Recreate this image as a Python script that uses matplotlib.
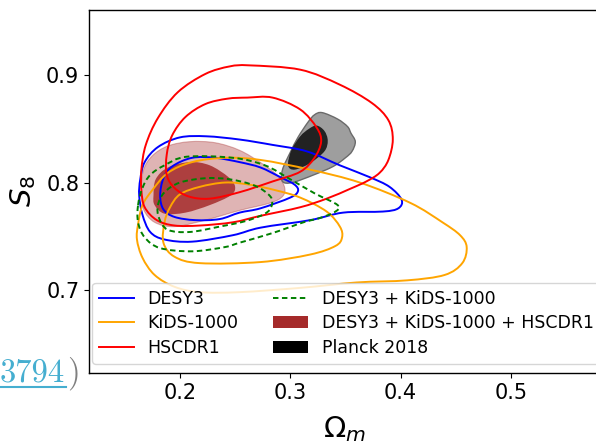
import numpy as np
import matplotlib
matplotlib.use("Agg")
import matplotlib.pyplot as plt
from matplotlib.path import Path
from matplotlib.patches import PathPatch, Patch
from matplotlib.lines import Line2D

# ---- credible-region outlines in the (Omega_m, S8) plane ----
# DESY3 (1 and 2 sigma)
desy3_om_1 = [0.182, 0.185, 0.193, 0.211, 0.232, 0.254, 0.273, 0.291, 0.304, 0.307, 0.300,
              0.273, 0.254, 0.236, 0.214, 0.195, 0.185]
desy3_s8_1 = [0.788, 0.804, 0.815, 0.823, 0.823, 0.819, 0.814, 0.805, 0.798, 0.792, 0.786,
              0.776, 0.772, 0.766, 0.765, 0.768, 0.775]
desy3_om_2 = [0.164, 0.168, 0.180, 0.200, 0.224, 0.254, 0.284, 0.315, 0.345, 0.372, 0.390,
              0.401, 0.398, 0.384, 0.348, 0.318, 0.273, 0.248, 0.211, 0.186, 0.173, 0.166, 0.163]
desy3_s8_2 = [0.803, 0.819, 0.833, 0.842, 0.843, 0.840, 0.835, 0.829, 0.816, 0.805, 0.796,
              0.784, 0.776, 0.773, 0.772, 0.765, 0.758, 0.751, 0.745, 0.747, 0.754, 0.770, 0.788]

# KiDS-1000
kids_om_1 = [0.186, 0.191, 0.200, 0.218, 0.241, 0.263, 0.286, 0.309, 0.333, 0.345, 0.347,
             0.341, 0.318, 0.273, 0.218, 0.195, 0.185]
kids_s8_1 = [0.763, 0.777, 0.789, 0.796, 0.800, 0.798, 0.793, 0.786, 0.773, 0.759, 0.749,
             0.741, 0.733, 0.726, 0.725, 0.731, 0.744]
kids_om_2 = [0.162, 0.166, 0.175, 0.189, 0.211, 0.241, 0.273, 0.318, 0.363, 0.409, 0.438,
             0.454, 0.460, 0.456, 0.440, 0.406, 0.360, 0.309, 0.254, 0.218, 0.195, 0.177,
             0.166, 0.161]
kids_s8_2 = [0.761, 0.779, 0.793, 0.809, 0.819, 0.823, 0.821, 0.812, 0.800, 0.781, 0.763,
             0.751, 0.740, 0.725, 0.714, 0.709, 0.707, 0.702, 0.698, 0.698, 0.703, 0.714,
             0.730, 0.747]

# HSC DR1
hsc_om_1 = [0.261, 0.284, 0.309, 0.324, 0.328, 0.322, 0.309, 0.284, 0.254, 0.227, 0.208,
            0.195, 0.188, 0.188, 0.193, 0.205, 0.223, 0.243]
hsc_s8_1 = [0.879, 0.879, 0.868, 0.851, 0.838, 0.823, 0.810, 0.801, 0.791, 0.785, 0.787,
            0.795, 0.807, 0.826, 0.844, 0.861, 0.873, 0.878]
hsc_om_2 = [0.263, 0.309, 0.345, 0.374, 0.389, 0.393, 0.389, 0.381, 0.369, 0.354, 0.333,
            0.309, 0.273, 0.248, 0.218, 0.195, 0.179, 0.168, 0.165, 0.165, 0.169, 0.180,
            0.198, 0.223, 0.245]
hsc_s8_2 = [0.909, 0.905, 0.891, 0.874, 0.858, 0.840, 0.821, 0.809, 0.801, 0.794, 0.785,
            0.777, 0.769, 0.763, 0.760, 0.760, 0.765, 0.777, 0.793, 0.812, 0.835, 0.860,
            0.884, 0.901, 0.908]

# DESY3 + KiDS-1000
dk_om_1 = [0.180, 0.186, 0.200, 0.223, 0.245, 0.268, 0.282, 0.283, 0.277, 0.259, 0.236,
           0.209, 0.189, 0.181]
dk_s8_1 = [0.779, 0.791, 0.800, 0.804, 0.803, 0.797, 0.787, 0.778, 0.771, 0.764, 0.759,
           0.754, 0.756, 0.767]
dk_om_2 = [0.162, 0.166, 0.173, 0.186, 0.206, 0.248, 0.277, 0.300, 0.322, 0.343, 0.341,
           0.327, 0.312, 0.284, 0.254, 0.241, 0.211, 0.182, 0.168, 0.162]
dk_s8_2 = [0.779, 0.795, 0.807, 0.816, 0.824, 0.823, 0.816, 0.803, 0.790, 0.779, 0.773,
           0.767, 0.763, 0.753, 0.744, 0.740, 0.736, 0.739, 0.749, 0.763]

# DESY3 + KiDS-1000 + HSCDR1
dkh_om_1 = [0.176, 0.178, 0.189, 0.209, 0.227, 0.244, 0.250, 0.246, 0.227, 0.205, 0.186, 0.177]
dkh_s8_1 = [0.788, 0.803, 0.814, 0.819, 0.816, 0.805, 0.796, 0.788, 0.779, 0.772, 0.771, 0.779]
dkh_om_2 = [0.165, 0.167, 0.175, 0.189, 0.209, 0.232, 0.254, 0.274, 0.289, 0.295, 0.293,
            0.282, 0.254, 0.223, 0.195, 0.177, 0.167]
dkh_s8_2 = [0.793, 0.812, 0.825, 0.834, 0.838, 0.837, 0.830, 0.818, 0.806, 0.795, 0.787,
            0.781, 0.774, 0.765, 0.759, 0.763, 0.775]

# Planck 2018
planck_om_1 = [0.324, 0.331, 0.334, 0.331, 0.318, 0.304, 0.298, 0.301, 0.309, 0.317]
planck_s8_1 = [0.853, 0.848, 0.839, 0.829, 0.818, 0.812, 0.816, 0.830, 0.843, 0.850]
planck_om_2 = [0.329, 0.343, 0.352, 0.355, 0.359, 0.356, 0.350, 0.339, 0.321, 0.302, 0.293,
               0.293, 0.300, 0.307, 0.316, 0.322]
planck_s8_2 = [0.865, 0.859, 0.852, 0.846, 0.838, 0.829, 0.823, 0.815, 0.807, 0.800, 0.801,
               0.812, 0.828, 0.842, 0.856, 0.863]

labels = ["DESY3", "KiDS-1000", "HSCDR1", "DESY3 + KiDS-1000",
          "DESY3 + KiDS-1000 + HSCDR1", "Planck 2018"]

x_ticks = [0.2, 0.3, 0.4, 0.5]
y_ticks = [0.7, 0.8, 0.9]


def closed_curve(om, s8):
    """Smooth closed Bezier path through the outline vertices (Catmull-Rom)."""
    p = np.column_stack([om, s8]).astype(float)
    n = len(p)
    verts = [p[0]]
    codes = [Path.MOVETO]
    for i in range(n):
        p0, p1, p2, p3 = p[(i - 1) % n], p[i], p[(i + 1) % n], p[(i + 2) % n]
        verts += [p1 + (p2 - p0) / 6.0, p2 - (p3 - p1) / 6.0, p2]
        codes += [Path.CURVE4] * 3
    verts.append(p[0])
    codes.append(Path.CLOSEPOLY)
    return Path(np.array(verts), codes)


fig = plt.figure(figsize=(5.96, 4.43), dpi=100)
ax = fig.add_axes([89 / 596, 70 / 443, 510 / 596, 363 / 443])
ax.set_xlim(0.1175, 0.58)
ax.set_ylim(0.6228, 0.9605)

LW = 1.4
dash = (0, (2.8, 1.8))

# filled regions first
ax.add_patch(PathPatch(closed_curve(dkh_om_2, dkh_s8_2), facecolor="brown", alpha=0.35,
                       edgecolor="brown", lw=0.8, zorder=1))
ax.add_patch(PathPatch(closed_curve(dkh_om_1, dkh_s8_1), facecolor="#a83232",
                       edgecolor="none", alpha=0.9, zorder=1.1))
ax.add_patch(PathPatch(closed_curve(planck_om_2, planck_s8_2), facecolor="#9e9e9e",
                       edgecolor="#6a6a6a", lw=1.0, zorder=1))
ax.add_patch(PathPatch(closed_curve(planck_om_1, planck_s8_1), facecolor="#222222",
                       edgecolor="none", zorder=1.1))

# line contours
for om, s8, col, ls in [
    (desy3_om_1, desy3_s8_1, "blue", "-"), (desy3_om_2, desy3_s8_2, "blue", "-"),
    (kids_om_1, kids_s8_1, "orange", "-"), (kids_om_2, kids_s8_2, "orange", "-"),
    (hsc_om_1, hsc_s8_1, "red", "-"), (hsc_om_2, hsc_s8_2, "red", "-"),
    (dk_om_1, dk_s8_1, "green", dash), (dk_om_2, dk_s8_2, "green", dash),
]:
    ax.add_patch(PathPatch(closed_curve(om, s8), facecolor="none", edgecolor=col,
                           lw=LW, linestyle=ls, zorder=2))

ax.set_xticks(x_ticks)
ax.set_yticks(y_ticks)
ax.tick_params(labelsize=15)
for s in ax.spines.values():
    s.set_linewidth(1.0)

ax.set_xlabel(r"$\Omega_m$", fontsize=21)
ax.set_ylabel(r"$S_8$", fontsize=21)
ax.xaxis.set_label_coords(0.5, -0.113)
ax.yaxis.set_label_coords(-0.100, 0.5)

handles = [
    Line2D([], [], color="blue", lw=LW, label=labels[0]),
    Line2D([], [], color="orange", lw=LW, label=labels[1]),
    Line2D([], [], color="red", lw=LW, label=labels[2]),
    Line2D([], [], color="green", lw=LW, linestyle=dash, label=labels[3]),
    Patch(facecolor="brown", label=labels[4]),
    Patch(facecolor="black", label=labels[5]),
]
ax.legend(handles=handles, ncol=2, loc="lower left", bbox_to_anchor=(0.006, 0.025),
          borderaxespad=0, fontsize=12.5, framealpha=0.8, columnspacing=2.0,
          labelspacing=0.38)

# reference link fragment at the lower left
link_col = "#45aed0"
fig.text(0.0, 61 / 443, "3794", family="cmr10", fontsize=23.5, color=link_col,
         va="baseline", ha="left")
fig.text(67 / 596, 61 / 443, ")", family="cmr10", fontsize=23.5, color="#808080",
         va="baseline", ha="left")
fig.add_artist(Line2D([0, 66 / 596], [56 / 443, 56 / 443], color=link_col, lw=1.5,
                      transform=fig.transFigure))

fig.savefig("out.png", dpi=100)
